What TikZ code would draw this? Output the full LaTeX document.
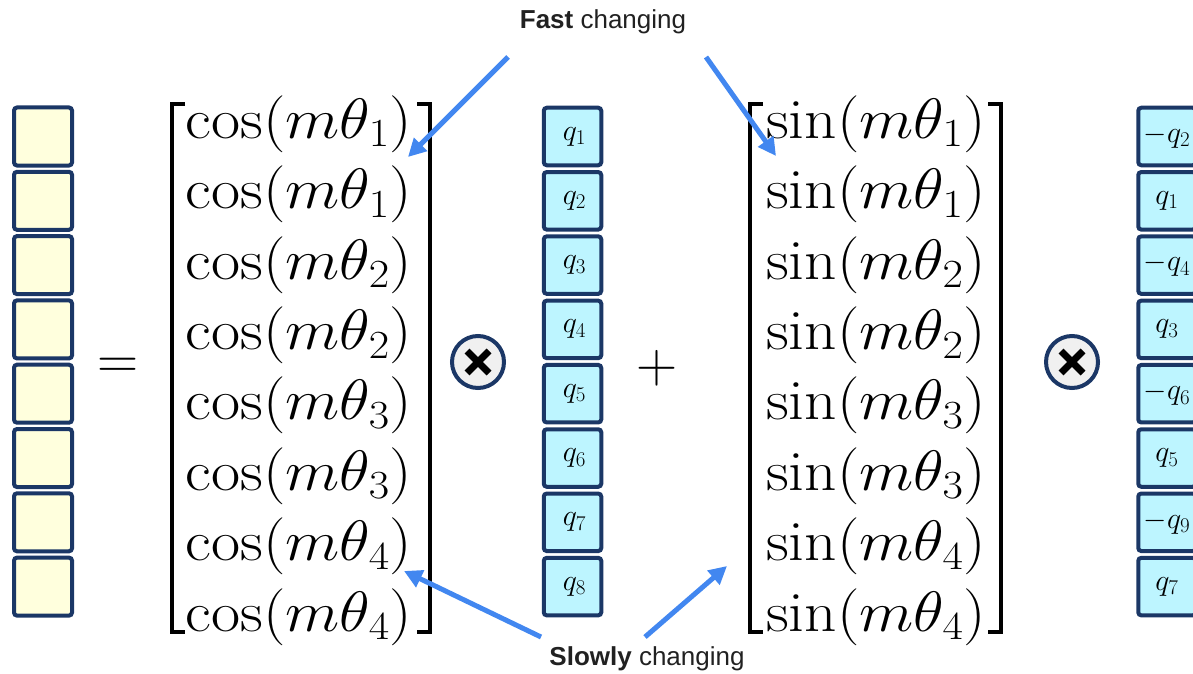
\RequirePackage{fix-cm}
\documentclass[tikz,border=0pt]{standalone}
\usepackage{fontspec}
\newfontfamily\lab{Liberation Sans}
\usetikzlibrary{arrows.meta,calc}
\definecolor{navy}{HTML}{1B3766}
\definecolor{ylw}{HTML}{FFFFDD}
\definecolor{cyn}{HTML}{BDF5FF}
\definecolor{arr}{HTML}{4287F0}
\definecolor{cgray}{HTML}{F0F0F0}
\tikzset{
  ybox/.style={draw=navy,line width=4pt,fill=ylw,rounded corners=3pt,minimum width=58pt,minimum height=58pt,inner sep=0pt},
  qbox/.style={draw=navy,line width=4pt,fill=cyn,rounded corners=3pt,minimum width=57.5pt,minimum height=57.5pt,inner sep=0pt},
  qlab/.style={font=\fontsize{30}{32}\selectfont},
  row/.style={font=\fontsize{57}{60}\selectfont,inner sep=0pt},
  bracket/.style={line width=4pt},
  otimes/.style={circle,draw=navy,line width=4pt,fill=cgray,minimum size=52pt,inner sep=0pt},
  blue arrow/.style={draw=arr,line width=5pt,-{Triangle[length=18pt,width=18pt]}},
  lbl/.style={font=\lab\fontsize{26}{28}\selectfont,inner sep=0pt,text=black!87}
}
\newcommand{\wid}[1]{\scalebox{1.11}[1]{#1}}
\newcommand{\ql}[1]{{\fontsize{30}{32}\selectfont$#1$}}
\begin{document}
\begin{tikzpicture}[x=1pt,y=-1pt]
\useasboundingbox (0,0) rectangle (1193,674);
% yellow column
\foreach \i in {1,...,8}{
  \node[ybox] (y\i) at (43,{136.5+64.3*(\i-1)}) {};
}
\node[row] (eq) at (118,368) {$=$};
% cos matrix
\draw[bracket] (185,104) -- (172,104) -- (172,632) -- (185,632);
\draw[bracket] (417,104) -- (430,104) -- (430,632) -- (417,632);
\foreach \i/\t in {1/1,2/1,3/2,4/2,5/3,6/3,7/4,8/4}{
  \node[row] (c\i) at (299,{124+70.4*(\i-1)}) {\wid{$\cos(m\theta_{\t})$}};
}
% otimes 1
\node[otimes] (o1) at (478,362) {};
\draw[line width=7pt] ($(o1)+(-11,-11)$) -- ($(o1)+(11,11)$);
\draw[line width=7pt] ($(o1)+(-11,11)$) -- ($(o1)+(11,-11)$);
% q column
\foreach \i in {1,...,8}{
  \node[qbox] (q\i) at (572.5,{136.5+64.3*(\i-1)}) {\hspace*{4pt}\ql{q_{\i}}};
}
\node[row] (plus) at (657,368) {$+$};
% sin matrix
\draw[bracket] (763,104) -- (750,104) -- (750,632) -- (763,632);
\draw[bracket] (988,104) -- (1001,104) -- (1001,632) -- (988,632);
\foreach \i/\t in {1/1,2/1,3/2,4/2,5/3,6/3,7/4,8/4}{
  \node[row] (s\i) at (876,{124+70.4*(\i-1)}) {\wid{$\sin(m\theta_{\t})$}};
}
% otimes 2
\node[otimes] (o2) at (1072,362) {};
\draw[line width=7pt] ($(o2)+(-11,-11)$) -- ($(o2)+(11,11)$);
\draw[line width=7pt] ($(o2)+(-11,11)$) -- ($(o2)+(11,-11)$);
% right column
\foreach \i/\l in {1/-q_2,2/q_1,3/-q_4,4/q_3,5/-q_6,6/q_5,7/-q_9,8/q_7}{
  \node[qbox] (r\i) at (1167,{136.5+64.3*(\i-1)}) {\ql{\l}};
}
% labels
\node[lbl] (fast) at (603,22) {\textbf{Fast} changing};
\node[lbl] (slow) at (647,659) {\textbf{Slowly} changing};
\coordinate (fa) at (508,57);
\coordinate (fb) at (706,57);
\coordinate (sa) at (541,637);
\coordinate (sb) at (645,637);
\coordinate (ta) at (408,157);
\coordinate (tb) at (776,156);
\coordinate (tc) at (404,571);
\coordinate (td) at (727,566);
\draw[blue arrow] (fa) -- (ta);
\draw[blue arrow] (fb) -- (tb);
\draw[blue arrow] (sa) -- (tc);
\draw[blue arrow] (sb) -- (td);
\end{tikzpicture}
\end{document}
